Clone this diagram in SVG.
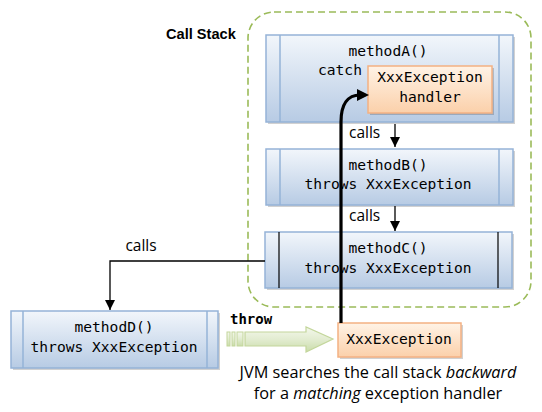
<svg xmlns="http://www.w3.org/2000/svg" width="542" height="412" viewBox="0 0 542 412">
<defs>
<linearGradient id="gBlue" x1="0" y1="0" x2="0" y2="1">
<stop offset="0" stop-color="#f2f6fb"/>
<stop offset="1" stop-color="#b7cbe4"/>
</linearGradient>
<linearGradient id="gOrange" x1="0" y1="0" x2="0" y2="1">
<stop offset="0" stop-color="#fff3e6"/>
<stop offset="1" stop-color="#fbd0aa"/>
</linearGradient>
<linearGradient id="gGreen" x1="0" y1="0" x2="0" y2="1">
<stop offset="0" stop-color="#f4f8ec"/>
<stop offset="0.5" stop-color="#e2ecd0"/>
<stop offset="1" stop-color="#c9dcaa"/>
</linearGradient>
<marker id="ah" viewBox="0 0 10 10" refX="10" refY="5" markerWidth="10" markerHeight="10" markerUnits="userSpaceOnUse" orient="auto">
<path d="M0,0 L10,5 L0,10 Z" fill="#000"/>
</marker>
</defs>
<style>
.box{fill:url(#gBlue);stroke:#95b3d7;stroke-width:1.5}
.side{stroke:#95b3d7;stroke-width:1.5}
.sideDark{stroke:#000;stroke-width:1.2}
.shadow{fill:#000;opacity:0.18}
.exc{fill:url(#gOrange);stroke:#f4b183;stroke-width:1.5}
.mono{font-family:"DejaVu Sans Mono","Liberation Mono",monospace;font-size:14.6px;fill:#000}
.sans{font-family:"Open Sans","Liberation Sans",Arial,sans-serif;font-size:15.5px;fill:#000}
.note{font-family:"Open Sans","Liberation Sans",Arial,sans-serif;font-size:16.3px;fill:#000}
.conn{fill:none;stroke:#000;stroke-width:1.3}
</style>

<rect x="248" y="12" width="283" height="295" rx="26" ry="26" fill="none" stroke="#9bbb59" stroke-width="1.6" stroke-dasharray="7,4"/>
<text x="166" y="39" font-family="Liberation Sans,Arial,sans-serif" font-size="14.6px" font-weight="bold" fill="#000">Call Stack</text>

<g id="methodA">
<rect class="shadow" x="268" y="37" width="247" height="87"/>
<rect class="box" x="266" y="35" width="247" height="87"/>
<line class="side" x1="280" y1="35" x2="280" y2="122"/>
<line class="side" x1="499" y1="35" x2="499" y2="122"/>
<text class="mono" x="388" y="56" text-anchor="middle">methodA()</text>
<text class="mono" x="318" y="75">catch</text>
</g>

<g id="handler">
<rect class="shadow" x="370" y="68" width="124" height="47"/>
<rect class="exc" x="368" y="66" width="124" height="47"/>
<text class="mono" x="430" y="82" text-anchor="middle">XxxException</text>
<text class="mono" x="430" y="102" text-anchor="middle">handler</text>
</g>

<g id="methodB">
<rect class="shadow" x="268" y="151" width="247" height="56"/>
<rect class="box" x="266" y="149" width="247" height="56"/>
<line class="side" x1="280" y1="149" x2="280" y2="205"/>
<line class="side" x1="499" y1="149" x2="499" y2="205"/>
<text class="mono" x="388" y="170" text-anchor="middle">methodB()</text>
<text class="mono" x="388" y="189" text-anchor="middle">throws XxxException</text>
</g>

<g id="methodC">
<rect class="shadow" x="267" y="234" width="247" height="56"/>
<rect class="box" x="265" y="232" width="247" height="56"/>
<line class="sideDark" x1="279" y1="232" x2="279" y2="288"/>
<line class="sideDark" x1="498" y1="232" x2="498" y2="288"/>
<text class="mono" x="388" y="253" text-anchor="middle">methodC()</text>
<text class="mono" x="388" y="273" text-anchor="middle">throws XxxException</text>
</g>

<g id="methodD">
<rect class="shadow" x="13" y="313" width="207" height="57"/>
<rect class="box" x="11" y="311" width="207" height="57"/>
<line class="side" x1="23" y1="311" x2="23" y2="368"/>
<line class="side" x1="207" y1="311" x2="207" y2="368"/>
<text class="mono" x="114" y="332" text-anchor="middle">methodD()</text>
<text class="mono" x="114" y="352" text-anchor="middle">throws XxxException</text>
</g>

<g id="exception">
<rect class="shadow" x="340" y="325" width="123" height="34"/>
<rect class="exc" x="338" y="323" width="123" height="34"/>
<text class="mono" x="399" y="344" text-anchor="middle">XxxException</text>
</g>

<g id="throwArrow">
<rect x="227" y="332" width="3" height="14" fill="url(#gGreen)" stroke="#c3d69b" stroke-width="1"/>
<rect x="232" y="332" width="3" height="14" fill="url(#gGreen)" stroke="#c3d69b" stroke-width="1"/>
<rect x="237" y="332" width="6" height="14" fill="url(#gGreen)" stroke="#c3d69b" stroke-width="1"/>
<path d="M245,332 L306,332 L306,327 L333,339 L306,352 L306,346 L245,346 Z" fill="url(#gGreen)" stroke="#c3d69b" stroke-width="1.2"/>
<text x="230" y="324" font-family="DejaVu Sans Mono,Liberation Mono,monospace" font-size="14px" font-weight="bold" fill="#000">throw</text>
</g>

<g id="connectors">
<line class="conn" x1="395" y1="124" x2="395" y2="147" marker-end="url(#ah)"/>
<text class="sans" x="349" y="138">calls</text>
<line class="conn" x1="395" y1="206" x2="395" y2="231" marker-end="url(#ah)"/>
<text class="sans" x="349" y="221">calls</text>
<polyline class="conn" points="265,261 110,261 110,310" marker-end="url(#ah)"/>
<text class="sans" x="141" y="251" text-anchor="middle">calls</text>
<path d="M341,323 L341,122 C341,104 348,95 360,95" fill="none" stroke="#000" stroke-width="3.2"/>
<path d="M357,89 L369,95 L357,101 Z" fill="#000"/>
</g>

<text class="note" x="378" y="378" text-anchor="middle">JVM searches the call stack <tspan font-style="italic">backward</tspan></text>
<text class="note" x="378" y="399" text-anchor="middle">for a <tspan font-style="italic">matching</tspan> exception handler</text>
</svg>
